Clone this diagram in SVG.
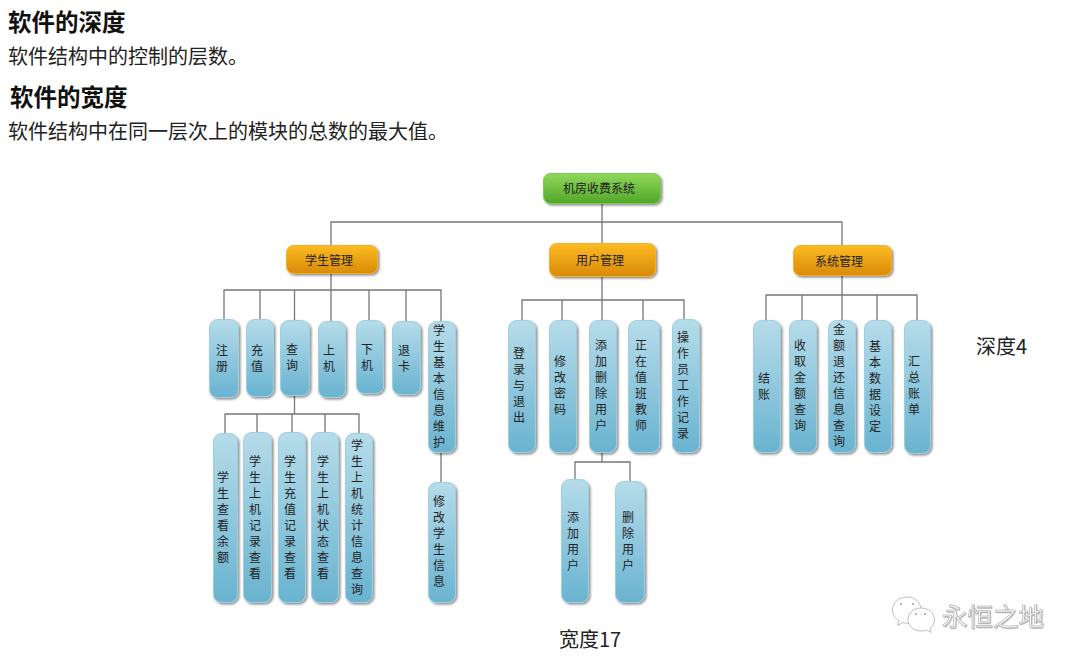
<svg xmlns="http://www.w3.org/2000/svg" width="1080" height="663" viewBox="0 0 1080 663">
<style>
text{font-family:"Noto Sans CJK SC","Noto Sans",sans-serif;fill:#1a1a1a}
.h{font-size:23.500px;font-weight:700;fill:#111}
.b{font-size:20px;fill:#222}
.l{font-size:20px;fill:#222}
.t{font-size:12px;text-anchor:middle;dominant-baseline:central;fill:#222}
.v{font-size:12px;writing-mode:vertical-rl;text-orientation:upright;text-anchor:middle;letter-spacing:4px;fill:#222}
.n rect{filter:url(#sh);stroke-width:1}
.leaf rect{fill:url(#gb);stroke:#9fd0e2}
.org rect{fill:url(#go);stroke:#f3b227}
.root rect{fill:url(#gg);stroke:#7fc850}
#connectors path{fill:none;stroke:#777;stroke-width:1.3}
.wm{font-size:25.5px;fill:#f6f6f6;stroke:#a6a6a6;stroke-width:.5;filter:url(#wsh)}
#wechat path{fill:#fff;stroke:#b5b5b5;stroke-width:.9}
#wechat circle{fill:#999}
</style>
<defs>
<linearGradient id="gb" x1="0" y1="0" x2="0" y2="1"><stop offset="0" stop-color="#b6dcea"/><stop offset="1" stop-color="#69b3d0"/></linearGradient>
<linearGradient id="go" x1="0" y1="0" x2="0" y2="1"><stop offset="0" stop-color="#fdbb22"/><stop offset="1" stop-color="#d88a08"/></linearGradient>
<linearGradient id="gg" x1="0" y1="0" x2="0" y2="1"><stop offset="0" stop-color="#8fd85a"/><stop offset="1" stop-color="#52a62a"/></linearGradient>
<filter id="sh" x="-30%" y="-20%" width="160%" height="140%"><feDropShadow dx="1.5" dy="1.5" stdDeviation="1.100" flood-color="#000" flood-opacity=".45"/></filter>
<filter id="wsh" x="-10%" y="-20%" width="120%" height="140%"><feDropShadow dx=".6" dy=".8" stdDeviation=".4" flood-color="#888" flood-opacity=".7"/></filter>
</defs>
<rect width="1080" height="663" fill="#fff"/>
<text class="h" x="8" y="31">软件的深度</text>
<text class="b" x="8" y="64">软件结构中的控制的层数。</text>
<text class="h" x="10" y="106">软件的宽度</text>
<text class="b" x="8" y="139">软件结构中在同一层次上的模块的总数的最大值。</text>
<g id="connectors">
<path d="M602 203V243M331 245V222H842V245"/>
<path d="M331 273V321M224 319V290H441V321M260 290V319M294.500 290V320M369 290V320M406 290V321"/>
<path d="M602 276V320M522 320V300H684V319M562 300V320M643 300V320"/>
<path d="M842 275V320M766 320V295H917V320M802 295V320M877 295V320"/>
<path d="M294.500 395V414M225 433V414H359V433M257 414V432M292 414V432M325 414V432"/>
<path d="M441 452V482"/>
<path d="M602 452V462M575 479V462H630V481"/>
</g>
<g id="root" class="n root"><rect x="543.500" y="173.500" width="117" height="30" rx="7"/><text class="t" x="599" y="187.500">机房收费系统</text></g>
<g id="m1" class="n org"><rect x="286.500" y="245.500" width="91" height="28" rx="7"/><text class="t" x="329" y="259.500">学生管理</text></g>
<g id="m2" class="n org"><rect x="549.500" y="243.500" width="106" height="33" rx="7"/><text class="t" x="600" y="259.500">用户管理</text></g>
<g id="m3" class="n org"><rect x="793.500" y="245.500" width="98" height="30" rx="7"/><text class="t" x="839" y="260.500">系统管理</text></g>
<g id="a1" class="n leaf"><rect x="209.500" y="319.500" width="29" height="78" rx="8"/><text class="v" x="222" y="360">注册</text></g>
<g id="a2" class="n leaf"><rect x="246.500" y="319.500" width="27" height="77" rx="8"/><text class="v" x="257" y="360">充值</text></g>
<g id="a3" class="n leaf"><rect x="280.500" y="320.500" width="29" height="75" rx="8"/><text class="v" x="292" y="359">查询</text></g>
<g id="a4" class="n leaf"><rect x="318.500" y="321.500" width="27" height="76" rx="8"/><text class="v" x="329" y="360">上机</text></g>
<g id="a5" class="n leaf"><rect x="356.500" y="320.500" width="27" height="73" rx="8"/><text class="v" x="367" y="359">下机</text></g>
<g id="a6" class="n leaf"><rect x="392.500" y="321.500" width="28" height="73" rx="8"/><text class="v" x="404" y="360">退卡</text></g>
<g id="a7" class="n leaf"><rect x="428.500" y="321.500" width="27" height="131" rx="8"/><text class="v" x="439" y="388">学生基本信息维护</text></g>
<g id="b1" class="n leaf"><rect x="508.500" y="320.500" width="27" height="132" rx="8"/><text class="v" x="519" y="387">登录与退出</text></g>
<g id="b2" class="n leaf"><rect x="549.500" y="320.500" width="27" height="132" rx="8"/><text class="v" x="560" y="387">修改密码</text></g>
<g id="b3" class="n leaf"><rect x="589.500" y="320.500" width="27" height="132" rx="8"/><text class="v" x="601" y="387">添加删除用户</text></g>
<g id="b4" class="n leaf"><rect x="628.500" y="320.500" width="31" height="132" rx="8"/><text class="v" x="641" y="387">正在值班教师</text></g>
<g id="b5" class="n leaf"><rect x="672.500" y="319.500" width="27" height="133" rx="8"/><text class="v" x="683" y="387">操作员工作记录</text></g>
<g id="c1" class="n leaf"><rect x="753.500" y="320.500" width="27" height="132" rx="8"/><text class="v" x="764" y="388">结账</text></g>
<g id="c2" class="n leaf"><rect x="789.500" y="320.500" width="27" height="132" rx="8"/><text class="v" x="800" y="387">收取金额查询</text></g>
<g id="c3" class="n leaf"><rect x="828.500" y="320.500" width="27" height="132" rx="8"/><text class="v" x="839" y="387">金额退还信息查询</text></g>
<g id="c4" class="n leaf"><rect x="864.500" y="320.500" width="27" height="132" rx="8"/><text class="v" x="875" y="388">基本数据设定</text></g>
<g id="c5" class="n leaf"><rect x="904.500" y="320.500" width="26" height="133" rx="8"/><text class="v" x="914" y="387">汇总账单</text></g>
<g id="d1" class="n leaf"><rect x="213.500" y="433.500" width="24" height="169" rx="8"/><text class="v" x="223" y="519">学生查看余额</text></g>
<g id="d2" class="n leaf"><rect x="243.500" y="432.500" width="28" height="170" rx="8"/><text class="v" x="255" y="519">学生上机记录查看</text></g>
<g id="d3" class="n leaf"><rect x="278.500" y="432.500" width="27" height="170" rx="8"/><text class="v" x="290" y="519">学生充值记录查看</text></g>
<g id="d4" class="n leaf"><rect x="311.500" y="432.500" width="27" height="170" rx="8"/><text class="v" x="323" y="519">学生上机状态查看</text></g>
<g id="d5" class="n leaf"><rect x="345.500" y="433.500" width="27" height="169" rx="8"/><text class="v" x="357" y="519">学生上机统计信息查询</text></g>
<g id="e1" class="n leaf"><rect x="428.500" y="482.500" width="27" height="120" rx="8"/><text class="v" x="439" y="543">修改学生信息</text></g>
<g id="f1" class="n leaf"><rect x="561.500" y="479.500" width="27" height="123" rx="8"/><text class="v" x="573" y="543">添加用户</text></g>
<g id="f2" class="n leaf"><rect x="615.500" y="481.500" width="29" height="121" rx="8"/><text class="v" x="628" y="543">删除用户</text></g>
<text class="l" x="976" y="354">深度4</text>
<text class="l" x="559" y="647">宽度17</text>
<g id="wechat">
<path d="M907 597C898 597 892.500 603 892.500 610C892.500 615 895 618.500 899 621L897.500 625.500L903 622.500C905 623 907 623.500 909 623.300C920 622 924 612 920 605C917.500 600 913 597 907 597Z"/>
<path d="M921 608C913.500 608 908 613 908 619.500C908 626 913.500 631 921 631C923 631 925 630.500 927 630L931 632.500L930.500 628C933 626 934.500 623 934.500 619.500C934.500 613 928.500 608 921 608Z"/>
<circle cx="901" cy="604" r="1"/><circle cx="913" cy="604" r="1"/><circle cx="916" cy="614" r="1"/><circle cx="925" cy="614" r="1"/>
</g>
<text class="wm" x="942" y="626">永恒之地</text>
</svg>
